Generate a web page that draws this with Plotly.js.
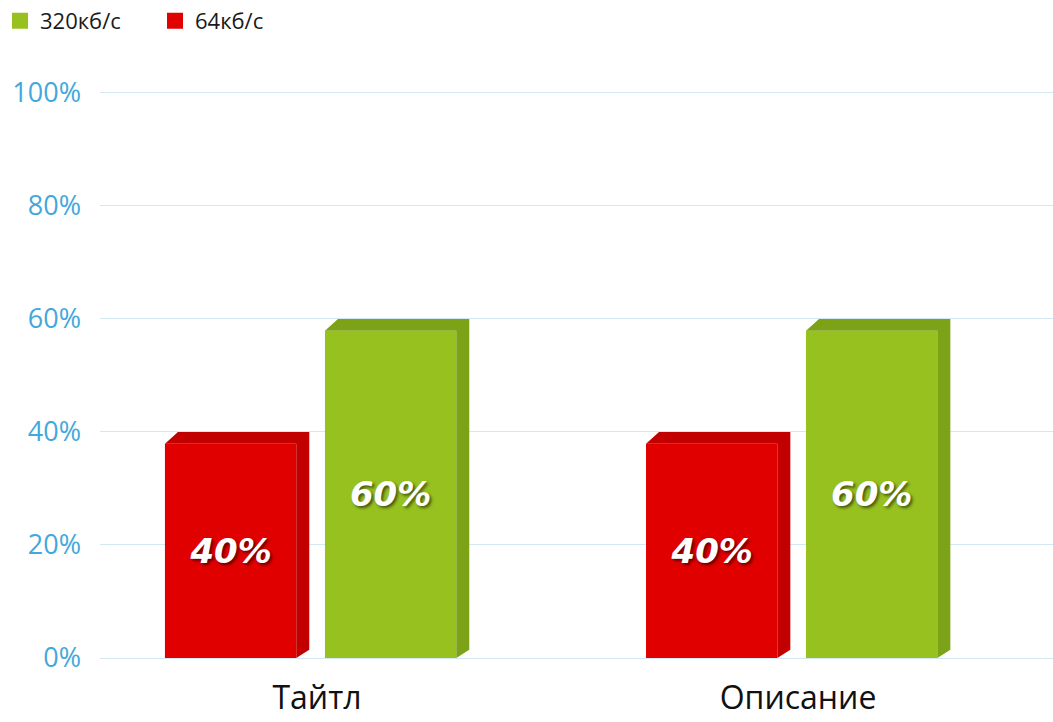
<!DOCTYPE html>
<html>
<head>
<meta charset="utf-8">
<script src="https://cdn.plot.ly/plotly-3.0.1.min.js"></script>
<style>html,body{margin:0;padding:0;background:#fff;}#chart{width:1053px;height:722px;}</style>
</head>
<body>
<div id="chart"></div>
<script>
// ---- data ----
const categories = ['Тайтл', 'Описание'];
const seriesNames = ['320кб/с', '64кб/с'];
const values320 = [60, 60];
const values64 = [40, 40];
const yTickVals = [0, 20, 40, 60, 80, 100];
const yTickText = ['0%', '20%', '40%', '60%', '80%', '100%'];

// ---- styling (pseudo-3D bars) ----
const BAR_W = 0.273;      // bar width in category units
const DEPTH_X = 0.027;    // depth offset, category units
const DEPTH_Y = 2.1;      // depth offset, value units
const catX = categories.map((c, i) => i);

function frontTrace(name, vals, off, color) {
  return {
    type: 'bar', name: name, x: catX, y: vals.map(v => v - DEPTH_Y),
    offset: off, width: BAR_W, showlegend: false,
    marker: {color: color, line: {width: 0}},
    text: vals.map(v => v + '%'),
    textposition: 'inside', insidetextanchor: 'middle',
    textfont: {family: 'DejaVu Sans', size: 34, color: '#ffffff', weight: 900, style: 'italic',
               shadow: '2px 2px 3px rgba(0,0,0,0.55)'},
    hoverinfo: 'skip', cliponaxis: false
  };
}
function depthTrace(vals, off, color) {
  const xs = [], ys = [];
  vals.forEach((v, i) => {
    const xl = catX[i] + off, xr = xl + BAR_W;
    xs.push(xl, xl + DEPTH_X, xr + DEPTH_X, xr + DEPTH_X, xr, xr, xl, null);
    ys.push(v - DEPTH_Y, v, v, DEPTH_Y * 0.7, 0, v - DEPTH_Y, v - DEPTH_Y, null);
  });
  return {type: 'scatter', mode: 'lines', x: xs, y: ys, fill: 'toself', fillcolor: color,
          line: {width: 0, color: color}, showlegend: false, hoverinfo: 'skip'};
}
function legendTrace(name, color) {
  return {type: 'bar', name: name, x: [null], y: [null],
          marker: {color: color, line: {width: 4, color: color}},
          showlegend: true, hoverinfo: 'skip'};
}

const data = [
  frontTrace(seriesNames[0], values320, 0.0166, '#97c11f'),
  frontTrace(seriesNames[1], values64, -0.316, '#e10000'),
  depthTrace(values320, 0.0166, '#7ca317'),
  depthTrace(values64, -0.316, '#c30000'),
  legendTrace(seriesNames[0], '#97c11f'),
  legendTrace(seriesNames[1], '#e10000')
];

const layout = {
  width: 1053, height: 722,
  margin: {l: 100, r: 0, t: 90, b: 64},
  paper_bgcolor: '#ffffff', plot_bgcolor: '#ffffff',
  barmode: 'overlay',
  showlegend: true,
  legend: {orientation: 'h', xref: 'container', yref: 'container', x: 0.0, y: 1.0,
           xanchor: 'left', yanchor: 'top', font: {family: 'Open Sans', size: 22, color: '#1a1a1a'},
           traceorder: 'normal', itemwidth: 30, entrywidth: 110, entrywidthmode: 'pixels'},
  xaxis: {range: [-0.451, 1.530], tickvals: catX, ticktext: categories,
          showgrid: false, zeroline: false, showline: false, ticks: '',
          tickfont: {family: 'Open Sans', size: 32, color: '#111111'}, ticklabelstandoff: 18,
          fixedrange: true},
  yaxis: {range: [0, 100.5], tickvals: yTickVals, ticktext: yTickText,
          showgrid: true, gridcolor: '#d3e8f3', gridwidth: 1,
          zeroline: true, zerolinecolor: '#d3e8f3', zerolinewidth: 1,
          showline: false, ticks: '',
          tickfont: {family: 'Open Sans', size: 27, color: '#42a8dc'}, ticklabelstandoff: 18,
          fixedrange: true}
};

Plotly.newPlot('chart', data, layout, {displayModeBar: false, staticPlot: true});
</script>
</body>
</html>
